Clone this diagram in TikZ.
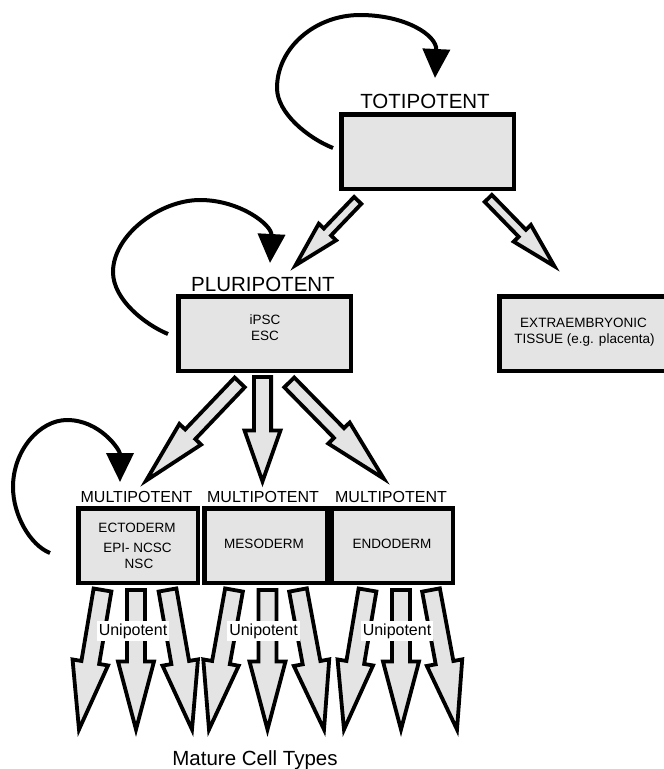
\documentclass[tikz,border=0pt]{standalone}
\usepackage{fontspec}
\setmainfont{Liberation Sans}
\usetikzlibrary{calc,arrows.meta}
\definecolor{boxgray}{HTML}{E4E4E4}
% #1 tail, #2 tip, #3 shaft half width, #4 head half width, #5 head length
\newcommand\blockarrow[5]{%
  \coordinate (fH) at ($(#2)!#5!(#1)$);
  \draw[blockarr] ($(#1)!#3!90:(#2)$) -- ($(fH)!#3!-90:(#1)$) -- ($(fH)!#4!-90:(#1)$) -- (#2)
    -- ($(fH)!#4!90:(#1)$) -- ($(fH)!#3!90:(#1)$) -- ($(#1)!#3!-90:(#2)$) -- cycle;}
\tikzset{
  blockarr/.style={draw=black, fill=boxgray, line width=3.8pt, line join=miter, miter limit=12},
  cellbox/.style={draw=black, fill=boxgray, line width=4.5pt, inner sep=0pt, outer sep=0pt, minimum height=74.5pt},
  txtbig/.style={font=\fontsize{20.5}{24}\selectfont, inner sep=0pt},
  txtmid/.style={font=\fontsize{16}{19}\selectfont, inner sep=0pt},
  txtsmall/.style={font=\fontsize{13.5}{16}\selectfont, inner sep=0pt},
  cycarrow/.style={line width=4pt, -{Triangle[length=29pt,width=27pt]}},
  unilabel/.style={txtmid, fill=white, inner xsep=2pt, inner ysep=2.5pt, anchor=base},
}
\begin{document}
\begin{tikzpicture}[x=1pt,y=-1pt]
\useasboundingbox (0,0) rectangle (664,769);

% ---- named end points of block arrows
\coordinate (a1s) at (357.7,200.4); \coordinate (a1e) at (295.6,265.2);
\coordinate (a2s) at (488.3,198.4); \coordinate (a2e) at (554.4,266.2);
\coordinate (a3s) at (239.7,382.4); \coordinate (a3e) at (146.1,480.6);
\coordinate (a4s) at (262.5,377);   \coordinate (a4e) at (262.5,481.4);
\coordinate (a5s) at (289.3,382.4); \coordinate (a5e) at (383.8,478.7);

\blockarrow{a1s}{a1e}{5pt}{12pt}{46pt}
\blockarrow{a2s}{a2e}{5pt}{12pt}{46pt}
\blockarrow{a3s}{a3e}{7pt}{15pt}{64pt}
\blockarrow{a4s}{a4e}{8.6pt}{18pt}{51pt}
\blockarrow{a5s}{a5e}{7pt}{15pt}{64pt}

% ---- unipotent arrows
\coordinate (u1s) at (102.5,590); \coordinate (u1e) at (79,729.5);
\coordinate (u2s) at (136,590);   \coordinate (u2e) at (136,729.5);
\coordinate (u3s) at (167.5,590); \coordinate (u3e) at (192,729.5);
\coordinate (u4s) at (234,590);   \coordinate (u4e) at (209,729.5);
\coordinate (u5s) at (267.5,590); \coordinate (u5e) at (267.5,729.5);
\coordinate (u6s) at (298,590);   \coordinate (u6e) at (324,729.5);
\coordinate (u7s) at (367.5,590); \coordinate (u7e) at (344,729.5);
\coordinate (u8s) at (401,590);   \coordinate (u8e) at (401,729.5);
\coordinate (u9s) at (431,590);   \coordinate (u9e) at (457,729.5);
\foreach \i in {1,...,9}{\blockarrow{u\i s}{u\i e}{9pt}{18pt}{68pt}}

% ---- boxes
\node[cellbox, minimum width=172.5pt] (toti)  at (427.5,151.5) {};
\node[cellbox, minimum width=172.5pt] (pluri) at (264.5,333.5) {};
\node[cellbox, minimum width=172.5pt] (extra) at (585.5,333.5) {};
\node[cellbox, minimum width=119.5pt] (ecto)  at (138,545.5) {};
\node[cellbox, minimum width=122.5pt] (meso)  at (265.5,545.5) {};
\node[cellbox, minimum width=121.5pt] (endo)  at (392,545.5) {};

% ---- box texts
\node[txtbig, anchor=base] (totil) at (425,108) {TOTIPOTENT};
\node[txtbig, anchor=base] (pluril) at (263,291) {PLURIPOTENT};
\node[txtsmall, anchor=base] (ipsc) at (265,324) {iPSC};
\node[txtsmall, anchor=base] (esc) at (265,340) {ESC};
\node[txtsmall, anchor=base] (ext1) at (583.5,327) {EXTRAEMBRYONIC};
\node[txtsmall, anchor=base] (ext2) at (584.5,343) {TISSUE (e.g. placenta)};
\node[txtmid, anchor=base] (m1l) at (136.5,502) {MULTIPOTENT};
\node[txtmid, anchor=base] (m2l) at (263,502) {MULTIPOTENT};
\node[txtmid, anchor=base] (m3l) at (391,502) {MULTIPOTENT};
\node[txtsmall, anchor=base] (ect1) at (137,532) {ECTODERM};
\node[txtsmall, anchor=base] (ect2) at (137.5,552) {EPI- NCSC};
\node[txtsmall, anchor=base] (ect3) at (139,568) {NSC};
\node[txtsmall, anchor=base] (mesl) at (264,548) {MESODERM};
\node[txtsmall, anchor=base] (endl) at (392,548) {ENDODERM};

% ---- unipotent labels
\node[unilabel] (uni1) at (133,635) {Unipotent};
\node[unilabel] (uni2) at (263.5,635) {Unipotent};
\node[unilabel] (uni3) at (397,635) {Unipotent};
\node[txtbig, anchor=base] (mature) at (255,765) {Mature Cell Types};

% ---- self-renewal loops
\coordinate (l1s) at (333,148); \coordinate (l1e) at (435,78);
\draw[cycarrow] (l1s) .. controls (308,138) and (277,113) .. (277,88)
  .. controls (277,48) and (315,15) .. (360,15)
  .. controls (405,15) and (437,35) .. (l1e);
\coordinate (l2s) at (168,334); \coordinate (l2e) at (270,263);
\draw[cycarrow] (l2s) .. controls (146,325) and (113,300) .. (113,272)
  .. controls (113,235) and (160,200) .. (200,200)
  .. controls (240,200) and (272,225) .. (l2e);
\coordinate (l3s) at (50,553); \coordinate (l3e) at (120,482);
\draw[cycarrow] (l3s) .. controls (30,545) and (13,515) .. (13,487)
  .. controls (13,450) and (40,420) .. (67,420)
  .. controls (100,420) and (120,450) .. (l3e);
\end{tikzpicture}
\end{document}
